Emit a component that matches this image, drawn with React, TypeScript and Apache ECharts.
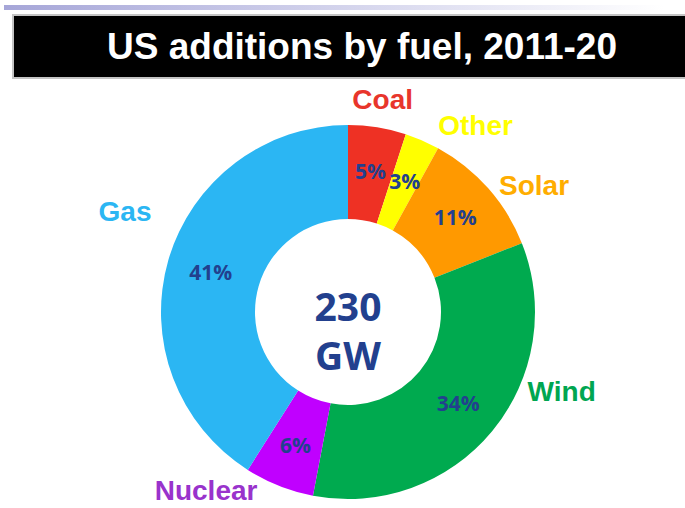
import React, { useEffect, useRef } from "react";
import * as echarts from "echarts";

const categories = ["Coal", "Other", "Solar", "Wind", "Nuclear", "Gas"];
const shares = [5, 3, 11, 34, 6, 41];
const totalLines = ["230", "GW"];
const titleText = "US additions by fuel, 2011-20";

const sliceColors = ["#ee3124", "#ffff00", "#ff9900", "#00aa4f", "#c000ff", "#2bb6f3"];
const nameColors = ["#e8352b", "#ffff00", "#ffad00", "#00a651", "#9933cc", "#2bb6f3"];
const nameOffsets = [
  [-1, 13],
  [37, 23],
  [15, 24],
  [38, -66],
  [-58, -33],
  [-4, -37],
];

const NAVY = "#22408e";
const SANS = "'Liberation Sans', Arial, sans-serif";
const HUMAN = "'Open Sans', 'Noto Sans', sans-serif";

export default function App() {
  const ref = useRef<HTMLDivElement>(null);
  useEffect(() => {
    document.body.style.margin = "0";
    const chart = echarts.init(ref.current!, null, { renderer: "svg" });
    const data = categories.map((name, i) => ({
      name,
      value: shares[i],
      itemStyle: { color: sliceColors[i] },
    }));
    const nameData = categories.map((name, i) => ({
      name,
      value: shares[i],
      label: { color: nameColors[i] },
    }));
    chart.setOption({
      animation: false,
      backgroundColor: "#ffffff",
      graphic: [
        {
          type: "rect",
          shape: { x: 4, y: 5, width: 660, height: 5 },
          style: {
            fill: new echarts.graphic.LinearGradient(0, 0, 1, 0, [
              { offset: 0, color: "#a6a6d8" },
              { offset: 1, color: "#ffffff" },
            ]),
          },
          silent: true,
        },
        {
          type: "rect",
          shape: { x: 13, y: 15, width: 690, height: 63 },
          style: { fill: "#000000", stroke: "#c4c4c4", lineWidth: 2 },
          silent: true,
        },
        {
          type: "text",
          x: 362,
          y: 46,
          style: {
            text: titleText,
            fill: "#ffffff",
            font: `bold 37px ${SANS}`,
            textAlign: "center",
            textVerticalAlign: "middle",
          },
          silent: true,
        },
        {
          type: "text",
          x: 348,
          y: 305,
          style: {
            text: totalLines[0],
            fill: NAVY,
            font: `bold 39px ${HUMAN}`,
            textAlign: "center",
            textVerticalAlign: "middle",
          },
          silent: true,
        },
        {
          type: "text",
          x: 348,
          y: 354,
          style: {
            text: totalLines[1],
            fill: NAVY,
            font: `bold 39px ${HUMAN}`,
            textAlign: "center",
            textVerticalAlign: "middle",
          },
          silent: true,
        },
      ],
      series: [
        {
          type: "pie",
          center: [348, 312],
          radius: [93, 187],
          startAngle: 90,
          clockwise: true,
          silent: true,
          data,
          label: {
            show: true,
            position: "inside",
            formatter: "{c}%",
            color: NAVY,
            fontFamily: HUMAN,
            fontWeight: "bold",
            fontSize: 21,
          },
          labelLine: { show: false },
          emphasis: { disabled: true },
        },
        {
          type: "pie",
          center: [348, 312],
          radius: [205, 245],
          startAngle: 90,
          clockwise: true,
          silent: true,
          data: nameData,
          itemStyle: { color: "rgba(0,0,0,0)" },
          label: {
            show: true,
            position: "inside",
            formatter: "{b}",
            fontFamily: SANS,
            fontWeight: "bold",
            fontSize: 28,
            lineHeight: 28,
          },
          labelLayout: (params: any) => ({
            dx: nameOffsets[params.dataIndex][0],
            dy: nameOffsets[params.dataIndex][1],
          }),
          labelLine: { show: false },
          emphasis: { disabled: true },
        },
      ],
    });
    return () => chart.dispose();
  }, []);
  return (
    <div
      ref={ref}
      style={{ position: "fixed", left: 0, top: 0, width: 685, height: 508 }}
    />
  );
}
